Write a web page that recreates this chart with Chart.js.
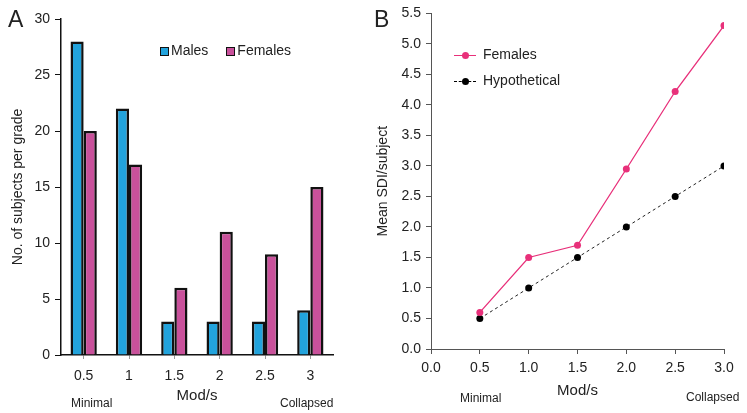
<!DOCTYPE html>
<html>
<head>
<meta charset="utf-8">
<script src="https://cdn.jsdelivr.net/npm/chart.js@4.4.1/dist/chart.umd.min.js"></script>
<style>
  body { margin: 0; background: #fff; font-family: 'Liberation Sans', Arial, sans-serif; color: #222; }
  #wrap { position: relative; width: 747px; height: 413px; overflow: hidden; }
  canvas { position: absolute; top: 0; }
  .lbl { position: absolute; white-space: nowrap; line-height: 1; }
  .panel { font-size: 23px; }
  .small { font-size: 12px; }
  .leg { position: absolute; font-size: 14px; line-height: 1; white-space: nowrap; }
  .box { display: inline-block; width: 7px; height: 7px; border: 1.5px solid #111; vertical-align: -1px; margin-right: 2px; }
  .lineSample { display: inline-block; position: relative; width: 22px; height: 10px; margin-right: 7px; vertical-align: -1px; }
  .lineSample i { position: absolute; left: 0; right: 0; top: 5px; border-top: 1px solid; }
  .lineSample b { position: absolute; left: 8px; top: 2px; width: 7px; height: 7px; border-radius: 50%; }
</style>
</head>
<body>
<div id="wrap">
  <canvas id="chartA" width="370" height="413" style="left:0;width:370px;height:413px"></canvas>
  <canvas id="chartB" width="377" height="413" style="left:370px;width:377px;height:413px"></canvas>

  <div class="lbl panel" style="left:8px;top:8px">A</div>
  <div class="lbl panel" style="left:374px;top:8px">B</div>
  <div class="lbl small" style="left:71px;top:397px">Minimal</div>
  <div class="lbl small" style="left:280px;top:397px">Collapsed</div>
  <div class="lbl small" style="left:460px;top:392px">Minimal</div>
  <div class="lbl small" style="left:686px;top:391px">Collapsed</div>

  <div class="leg" id="legendA" style="left:160px;top:43px"></div>
  <div class="leg" id="legendB" style="left:454px;top:47px"></div>
</div>
<script>
// data panel A
const gradeLabels = ['0.5', '1', '1.5', '2', '2.5', '3'];
const malesCount = [28, 22, 3, 3, 3, 4];
const femalesCount = [20, 17, 6, 11, 9, 15];

// data panel B
const modValues = [0.5, 1.0, 1.5, 2.0, 2.5, 3.0];
const femalesSDI = [0.6, 1.5, 1.7, 2.95, 4.22, 5.3];
const hypotheticalSDI = [0.5, 1.0, 1.5, 2.0, 2.5, 3.0];

const blue = '#22a3dc';
const magenta = '#c9519b';
const pink = '#e8307a';

Chart.defaults.font.family = "'Liberation Sans', Arial, sans-serif";
Chart.defaults.font.size = 14;
Chart.defaults.color = '#222';
Chart.defaults.animation = false;

new Chart(document.getElementById('chartA').getContext('2d'), {
  type: 'bar',
  data: {
    labels: gradeLabels,
    datasets: [
      { label: 'Males', data: malesCount, backgroundColor: blue, borderColor: '#111', borderWidth: 2.5, borderSkipped: 'bottom' },
      { label: 'Females', data: femalesCount, backgroundColor: magenta, borderColor: '#111', borderWidth: 2.5, borderSkipped: 'bottom' }
    ]
  },
  options: {
    responsive: false,
    layout: { padding: { top: 19, right: 37, left: 0, bottom: 0 } },
    categoryPercentage: 0.58,
    barPercentage: 1,
    plugins: { legend: { display: false }, tooltip: { enabled: false } },
    scales: {
      x: {
        grid: { drawOnChartArea: false, offset: false, tickLength: 4, color: '#999', lineWidth: 1 },
        border: { color: '#111', width: 1.5 },
        ticks: { padding: 9, color: '#222' },
        title: { display: true, text: 'Mod/s', font: { size: 15 }, padding: { top: 0, bottom: 8 } },
        afterFit: s => { s.height = 58; }
      },
      y: {
        min: 0, max: 30,
        ticks: { stepSize: 5, padding: 5, color: '#222' },
        grid: { drawOnChartArea: false, tickLength: 6, color: '#111' },
        border: { color: '#111', width: 1.5 },
        title: { display: true, text: 'No. of subjects per grade', padding: { top: 10, bottom: 0 } },
        afterFit: s => { s.width = 61; }
      }
    }
  }
});

new Chart(document.getElementById('chartB').getContext('2d'), {
  type: 'line',
  data: {
    datasets: [
      {
        label: 'Females',
        data: modValues.map((m, i) => ({ x: m, y: femalesSDI[i] })),
        borderColor: pink, backgroundColor: pink, borderWidth: 1.3,
        pointRadius: 3.5, pointBorderWidth: 0
      },
      {
        label: 'Hypothetical',
        data: modValues.map((m, i) => ({ x: m, y: hypotheticalSDI[i] })),
        borderColor: '#222', backgroundColor: '#000', borderWidth: 1, borderDash: [3, 3],
        pointRadius: 3.5, pointBorderWidth: 0
      }
    ]
  },
  options: {
    responsive: false,
    layout: { padding: { top: 12, right: 23, left: 0, bottom: 0 } },
    plugins: { legend: { display: false }, tooltip: { enabled: false } },
    scales: {
      x: {
        type: 'linear', min: 0, max: 3,
        ticks: { stepSize: 0.5, padding: 6, color: '#222', callback: v => v.toFixed(1) },
        grid: { drawOnChartArea: false, tickLength: 5, color: '#555' },
        border: { color: '#555', width: 1 },
        title: { display: true, text: 'Mod/s', font: { size: 15 }, padding: { top: 0, bottom: 13 } },
        afterFit: s => { s.height = 64; }
      },
      y: {
        min: 0, max: 5.5,
        ticks: { stepSize: 0.5, padding: 5, color: '#222', callback: v => v.toFixed(1) },
        grid: { drawOnChartArea: false, tickLength: 5, color: '#555' },
        border: { color: '#555', width: 1 },
        title: { display: true, text: 'Mean SDI/subject', padding: { top: 5, bottom: 0 } },
        afterFit: s => { s.width = 61; }
      }
    }
  }
});

// legend A manual
const legendA = document.getElementById('legendA');
[['Males', blue], ['Females', magenta]].forEach(([label, color], i) => {
  const span = document.createElement('span');
  span.style.marginRight = i === 0 ? '18px' : '0';
  span.innerHTML = `<span class="box" style="background:${color}"></span>${label}`;
  legendA.appendChild(span);
});

// legend B manual
const legendB = document.getElementById('legendB');
[['Females', pink, 'solid'], ['Hypothetical', '#000', 'dashed']].forEach(([label, color, style]) => {
  const row = document.createElement('div');
  row.style.marginBottom = '12px';
  row.innerHTML = `<span class="lineSample"><i style="border-top-style:${style};border-color:${color}"></i><b style="background:${color}"></b></span>${label}`;
  legendB.appendChild(row);
});
</script>
</body>
</html>
